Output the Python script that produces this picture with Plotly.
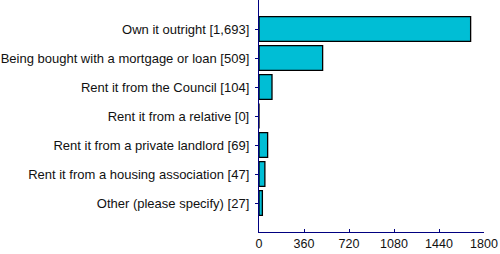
import plotly.graph_objects as go

categories = [
    "Own it outright [1,693]",
    "Being bought with a mortgage or loan [509]",
    "Rent it from the Council [104]",
    "Rent it from a relative [0]",
    "Rent it from a private landlord [69]",
    "Rent it from a housing association [47]",
    "Other (please specify) [27]",
]
values = [1693, 509, 104, 0, 69, 47, 27]
x_ticks = [0, 360, 720, 1080, 1440, 1800]

positions = list(range(len(categories)))

fig = go.Figure(
    go.Bar(
        x=values,
        y=positions,
        orientation="h",
        width=0.86,
        marker=dict(color="#00BED5", line=dict(color="black", width=1.3)),
    )
)

fig.update_layout(
    width=500,
    height=254,
    margin=dict(l=259, r=15.5, t=0, b=22),
    paper_bgcolor="white",
    plot_bgcolor="white",
    showlegend=False,
    font=dict(family="Liberation Sans, Arial, sans-serif", size=12, color="#111111"),
)

fig.update_yaxes(
    range=[7, -1],
    tickmode="array",
    tickvals=positions,
    ticktext=categories,
    tickfont=dict(size=13),
    showline=True,
    linecolor="#000080",
    linewidth=1.3,
    ticks="outside",
    ticklen=3,
    tickcolor="#000080",
    showgrid=False,
    zeroline=False,
    ticklabelstandoff=3,
)

fig.update_xaxes(
    range=[0, 1800],
    tickmode="array",
    tickvals=x_ticks,
    ticktext=[str(t) for t in x_ticks],
    tickfont=dict(size=12.5),
    showline=True,
    linecolor="#000080",
    linewidth=1.3,
    ticks="inside",
    ticklen=3,
    tickcolor="#000080",
    showgrid=False,
    zeroline=False,
)

fig.write_html("out.html")
